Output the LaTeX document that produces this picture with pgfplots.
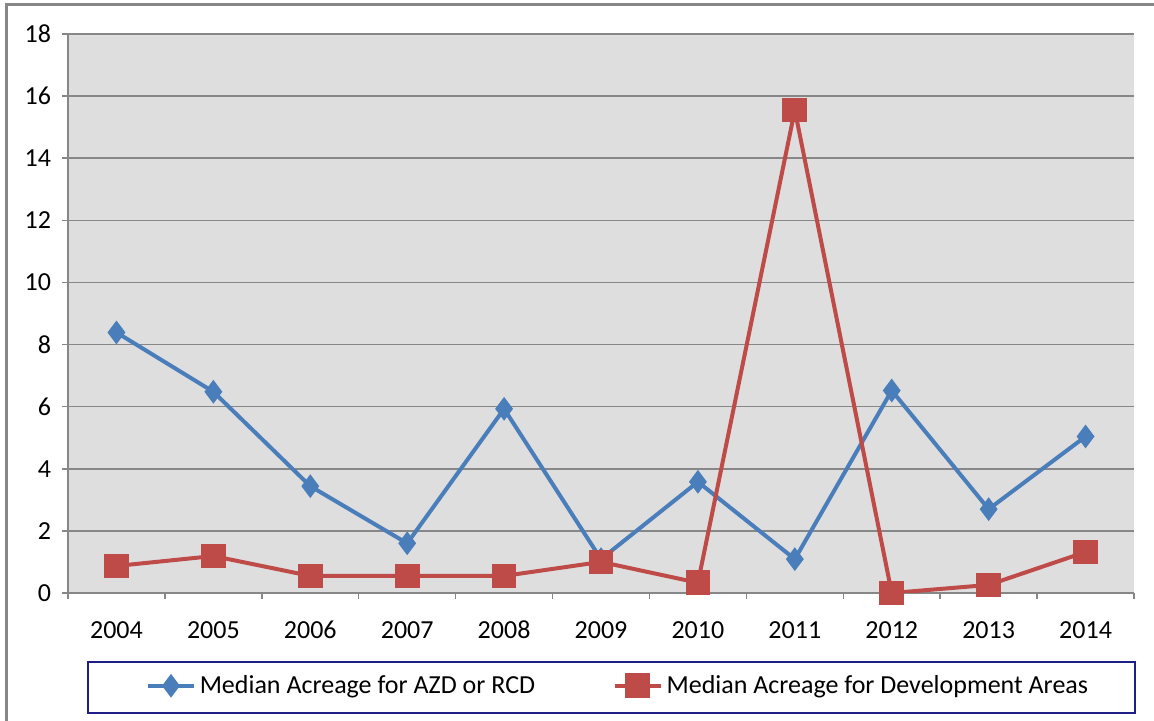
\documentclass[border=0pt]{standalone}
\usepackage{pgfplots}
\pgfplotsset{compat=1.18}
\usepackage{fontspec}
\setmainfont{Carlito}
\definecolor{azd}{RGB}{74,126,187}
\definecolor{dev}{RGB}{190,75,72}
\definecolor{plotbg}{RGB}{222,222,222}
\definecolor{gridc}{RGB}{135,135,135}
\definecolor{navybox}{RGB}{30,30,135}
\begin{document}
\begin{tikzpicture}
\useasboundingbox (0pt,0pt) rectangle (577pt,360.5pt);
\draw[gridc,line width=1.5pt] (3pt,-10pt) -- (3pt,358pt) -- (590pt,358pt);
\begin{axis}[
  at={(34pt,64pt)}, anchor=south west,
  scale only axis, width=533pt, height=279.5pt,
  xmin=-0.5, xmax=10.5, ymin=0, ymax=18,
  ytick={0,2,...,18},
  xtick={-0.5,0.5,...,10.5}, xticklabels={},
  extra x ticks={0,1,...,10},
  extra x tick labels={2004,2005,2006,2007,2008,2009,2010,2011,2012,2013,2014},
  extra x tick style={major tick length=0pt, grid=none},
  tick align=outside, major tick length=3pt,
  axis x line*=bottom, axis y line*=left,
  axis line style={gridc, line width=0.75pt},
  tick style={gridc, line width=0.75pt},
  ymajorgrids, grid style={gridc, line width=0.75pt},
  axis background/.style={fill=plotbg},
  ticklabel style={font=\fontsize{13}{15}\selectfont, text=black},
  /pgf/number format/assume math mode=true,
  xticklabel style={yshift=-10pt, text height=9pt, text depth=0pt},
  yticklabel style={xshift=-2pt},
  legend columns=2,
  legend style={at={(0.517,-0.166)}, anchor=center, draw=none, fill=none,
    font=\fontsize{13}{15}\selectfont, /tikz/every even column/.append style={column sep=37pt}},
  legend image code/.code={\draw[mark repeat=2,mark phase=2] plot coordinates {(0cm,0cm) (0.4cm,0cm) (0.8cm,0cm)};},
]
\addplot[azd, line width=2pt, mark=diamond*, mark size=4.3pt, mark options={solid, fill=azd}]
coordinates {(0,8.39) (1,6.48) (2,3.44) (3,1.6) (4,5.93) (5,1.09) (6,3.58) (7,1.09) (8,6.52) (9,2.7) (10,5.04)};
\addlegendentry{Median Acreage for AZD or RCD}
\addplot[dev, line width=2pt, mark=square*, mark size=5.2pt, mark options={solid, fill=dev}]
coordinates {(0,0.87) (1,1.19) (2,0.55) (3,0.55) (4,0.55) (5,1.0) (6,0.33) (7,15.55) (8,0.0) (9,0.26) (10,1.32)};
\addlegendentry{Median Acreage for Development Areas}
\end{axis}
\draw[navybox, line width=1pt] (44pt,29.5pt) rectangle (567.5pt,4pt);
\end{tikzpicture}
\end{document}
